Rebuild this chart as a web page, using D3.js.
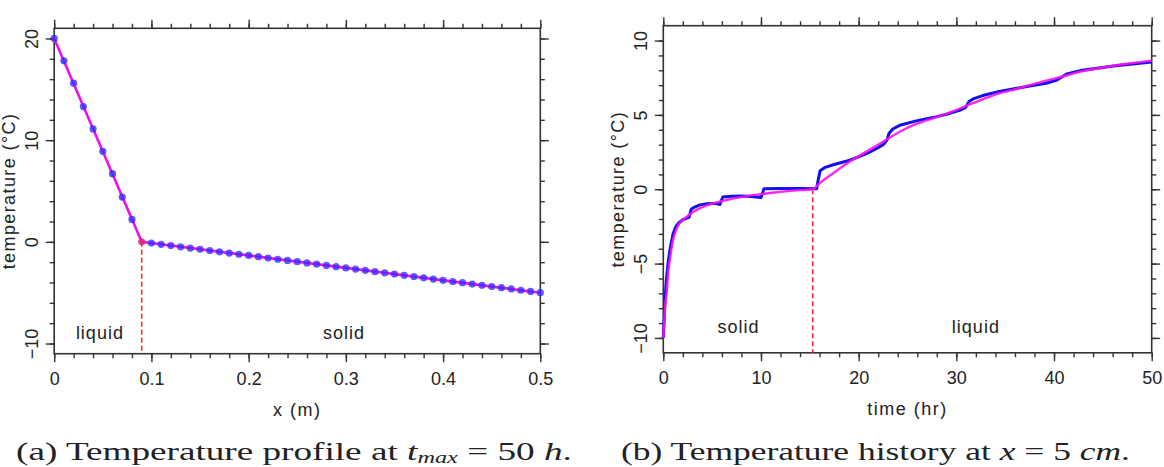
<!DOCTYPE html>
<html><head><meta charset="utf-8">
<script src="https://cdn.jsdelivr.net/npm/d3@7"></script>
<style>
body{margin:0;background:#fff;}
svg{display:block;background:#fff;}
text{font-family:"Liberation Sans",Arial,sans-serif;fill:#222;}
text.cap{font-family:"Liberation Serif","Times New Roman",serif;}
</style></head><body>
<svg id="c" width="1164" height="467"></svg>
<script>
// ---------- data: panel (a) temperature profile at t = 50 h ----------
const profileX = [0,0.01,0.02,0.03,0.04,0.05,0.06,0.07,0.08,0.09,
  0.10,0.11,0.12,0.13,0.14,0.15,0.16,0.17,0.18,0.19,0.20,0.21,0.22,0.23,0.24,0.25,0.26,0.27,0.28,0.29,
  0.30,0.31,0.32,0.33,0.34,0.35,0.36,0.37,0.38,0.39,0.40,0.41,0.42,0.43,0.44,0.45,0.46,0.47,0.48,0.49,0.50];
const profileNumT = [20,17.8,15.6,13.3,11.1,8.9,6.7,4.4,2.2,0,
  -0.12,-0.24,-0.37,-0.49,-0.61,-0.73,-0.85,-0.98,-1.10,-1.22,-1.34,-1.46,-1.59,-1.71,-1.83,-1.95,-2.07,-2.20,-2.32,-2.44,
  -2.56,-2.68,-2.80,-2.93,-3.05,-3.17,-3.29,-3.41,-3.54,-3.66,-3.78,-3.90,-4.02,-4.15,-4.27,-4.39,-4.51,-4.63,-4.76,-4.88,-5.00];
const profileExactX = [0, 0.09, 0.5];
const profileExactT = [20, 0, -5];
const profileInterfaceX = 0.09;
const profileXTicks = [0,0.1,0.2,0.3,0.4,0.5];
const profileXTickLabels = ["0","0.1","0.2","0.3","0.4","0.5"];
const profileYTicks = [-10,0,10,20];
const profileYTickLabels = ["\u221210","0","10","20"];

// ---------- data: panel (b) temperature history at x = 5 cm ----------
const historyNumTime = [0,0.15,0.3,0.5,0.7,1.0,1.3,1.6,2.0,2.5,2.65,2.85,3.2,3.75,4.5,5.3,5.8,5.95,6.1,7.0,8.0,9.0,10.0,10.15,10.3,
  12.0,14.0,15.7,15.85,16.05,16.5,17.4,19.1,20.8,22.0,22.6,22.9,23.1,23.5,24.2,25.9,27.6,29.3,30.5,30.95,31.3,31.8,
  32.7,34.4,35.8,37.5,39.2,40.3,40.8,41.3,42.7,44.4,46.1,47.8,50.0];
const historyNumT = [-10,-7.8,-6.2,-4.9,-4.0,-3.0,-2.5,-2.25,-2.05,-1.92,-1.88,-1.35,-1.2,-1.05,-0.97,-0.95,-1.02,-0.75,-0.52,-0.47,-0.45,-0.48,-0.56,-0.3,0.03,
  0.05,0.05,0.03,0.6,1.25,1.45,1.65,1.95,2.4,2.8,3.05,3.3,3.75,4.05,4.3,4.6,4.82,5.1,5.35,5.5,5.9,6.1,
  6.3,6.57,6.74,6.95,7.13,7.35,7.55,7.75,7.98,8.14,8.29,8.4,8.55];
const historyExactTime = [0,0.1,0.2,0.35,0.5,0.7,1.0,1.3,1.6,2.0,2.5,3.0,4.0,5.0,6.5,8.2,9.9,11.6,13.3,15.3,
  16.0,17.4,19.1,20.8,22.5,24.2,25.9,27.6,29.3,31.0,32.7,34.4,35.8,37.5,39.2,41.0,42.7,44.4,46.1,48.0,50.0];
const historyExactT = [-10,-8.8,-7.8,-6.9,-5.6,-4.6,-3.4,-2.75,-2.35,-2.05,-1.8,-1.55,-1.2,-0.97,-0.72,-0.5,-0.34,-0.2,-0.09,0,
  0.4,1.08,1.86,2.53,3.2,3.87,4.39,4.77,5.15,5.6,6.05,6.45,6.68,7.0,7.3,7.6,7.91,8.12,8.31,8.48,8.65];
const historyInterfaceTime = 15.3;
const historyXTicks = [0,10,20,30,40,50];
const historyXTickLabels = ["0","10","20","30","40","50"];
const historyYTicks = [-10,-5,0,5,10];
const historyYTickLabels = ["\u221210","\u22125","0","5","10"];

// ---------- drawing ----------
const svg = d3.select("#c");
const AX = "#333";

function panel(o) {
  const x = d3.scaleLinear().domain(o.xDomain).range([o.left, o.right]);
  const y = d3.scaleLinear().domain(o.yDomain).range([o.bottom, o.top]);
  const g = svg.append("g");
  const MAJ = 8.5, MIN = 4.5;
  function ax(gen, tr, vals, size, fmt) {
    const a = g.append("g").attr("transform", tr)
      .call(gen.tickValues(vals).tickSize(size).tickSizeOuter(0).tickFormat(fmt || (() => "")));
    a.select(".domain").remove();
    a.selectAll("line").attr("stroke", AX).attr("stroke-width", 1.4);
    return a;
  }
  ax(d3.axisBottom(x), `translate(0,${o.bottom})`, o.xMinor, MIN);
  ax(d3.axisTop(x), `translate(0,${o.top})`, o.xMinor, MIN);
  ax(d3.axisLeft(y), `translate(${o.left},0)`, o.yMinor, MIN);
  ax(d3.axisRight(y), `translate(${o.right},0)`, o.yMinor, MIN);
  const bx = ax(d3.axisBottom(x), `translate(0,${o.bottom})`, o.xTicks, MAJ, (d, i) => o.xLabels[i]);
  bx.selectAll("text").attr("y", 31).attr("dy", null).style("font-size", "18px").attr("fill", "#222");
  ax(d3.axisTop(x), `translate(0,${o.top})`, o.xTicks, MAJ);
  const ly = ax(d3.axisLeft(y), `translate(${o.left},0)`, o.yTicks, MAJ, (d, i) => o.yLabels[i]);
  ly.selectAll("text").attr("x", null).attr("dy", "0.36em").attr("text-anchor", "middle")
    .attr("transform", "translate(-23,0) rotate(-90)").style("font-size", "18px").attr("fill", "#222");
  ax(d3.axisRight(y), `translate(${o.right},0)`, o.yTicks, MAJ);
  g.append("rect").attr("x", o.left).attr("y", o.top).attr("width", o.right - o.left)
    .attr("height", o.bottom - o.top).attr("fill", "none").attr("stroke", AX).attr("stroke-width", 1.6);
  g.append("text").attr("x", (o.left + o.right) / 2).attr("y", o.bottom + 62).attr("text-anchor", "middle")
    .style("font-size", "18px").style("letter-spacing", "1.5px").text(o.xTitle);
  g.append("text").attr("text-anchor", "middle").attr("dy", "0.36em")
    .attr("transform", `translate(${o.left - 46},${(o.top + o.bottom) / 2}) rotate(-90)`)
    .style("font-size", "18px").style("letter-spacing", "1.4px").text("temperature (\u00B0C)");
  return {x, y, g};
}

// ----- panel (a)
const A = panel({
  left: 54.2, right: 540.3, top: 28.3, bottom: 353.7,
  xDomain: [0, 0.5], yDomain: [-11, 21],
  xTicks: profileXTicks, xLabels: profileXTickLabels, xMinor: d3.range(0, 0.5001, 0.02),
  yTicks: profileYTicks, yLabels: profileYTickLabels, yMinor: d3.range(-10, 20.001, 2),
  xTitle: "x (m)"
});
A.g.append("line").attr("x1", A.x(profileInterfaceX)).attr("x2", A.x(profileInterfaceX))
  .attr("y1", A.y(0)).attr("y2", A.y(-11)).attr("stroke", "#ff3030").attr("stroke-width", 1.6)
  .attr("stroke-dasharray", "5,3");
A.g.append("path").datum(profileExactX.map((v, i) => [v, profileExactT[i]]))
  .attr("d", d3.line().x(d => A.x(d[0])).y(d => A.y(d[1])))
  .attr("fill", "none").attr("stroke", "#ee10ee").attr("stroke-width", 2.6);
A.g.selectAll("circle.n").data(profileX.map((v, i) => [v, profileNumT[i]])).enter().append("circle")
  .attr("cx", d => A.x(d[0])).attr("cy", d => A.y(d[1])).attr("r", 3.6)
  .attr("fill", d => d[0] === profileInterfaceX ? "#e0206a" : "#3a2cff").attr("fill-opacity", 0.8);
A.g.append("text").attr("x", A.x(0.047)).attr("y", A.y(-9.6)).attr("text-anchor", "middle")
  .style("font-size", "18px").style("letter-spacing", "1px").text("liquid");
A.g.append("text").attr("x", A.x(0.298)).attr("y", A.y(-9.6)).attr("text-anchor", "middle")
  .style("font-size", "18px").style("letter-spacing", "1px").text("solid");

// ----- panel (b)
const B = panel({
  left: 663.3, right: 1151.7, top: 25.7, bottom: 352.8,
  xDomain: [0, 50], yDomain: [-11, 11],
  xTicks: historyXTicks, xLabels: historyXTickLabels, xMinor: d3.range(0, 50.001, 2),
  yTicks: historyYTicks, yLabels: historyYTickLabels, yMinor: d3.range(-10, 10.001, 1),
  xTitle: "time (hr)"
});
B.g.append("line").attr("x1", B.x(historyInterfaceTime)).attr("x2", B.x(historyInterfaceTime))
  .attr("y1", B.y(0)).attr("y2", B.y(-11)).attr("stroke", "#ff3030").attr("stroke-width", 1.6)
  .attr("stroke-dasharray", "5,3");
const lineB = d3.line().x(d => B.x(d[0])).y(d => B.y(d[1]));
B.g.append("path").datum(historyNumTime.map((v, i) => [v, historyNumT[i]]))
  .attr("d", lineB).attr("fill", "none").attr("stroke", "#1010ee").attr("stroke-width", 3)
  .attr("stroke-linejoin", "round");
B.g.append("path").datum(historyExactTime.map((v, i) => [v, historyExactT[i]]))
  .attr("d", lineB.curve(d3.curveMonotoneX)).attr("fill", "none").attr("stroke", "#ff10ee").attr("stroke-width", 2.4)
  .attr("stroke-opacity", 0.9);
B.g.append("text").attr("x", B.x(7.7)).attr("y", B.y(-9.7)).attr("text-anchor", "middle")
  .style("font-size", "18px").style("letter-spacing", "1px").text("solid");
B.g.append("text").attr("x", B.x(32.0)).attr("y", B.y(-9.7)).attr("text-anchor", "middle")
  .style("font-size", "18px").style("letter-spacing", "1px").text("liquid");

// ----- captions
function caption(x0, x1, parts) {
  const t = svg.append("text").attr("class", "cap").attr("x", 0).attr("y", 460)
    .attr("font-family", "Liberation Serif").style("font-size", "26px").attr("fill", "#111");
  parts.forEach(p => {
    const ts = t.append("tspan").text(p.s);
    if (p.i) ts.style("font-style", "italic");
    if (p.sub) ts.attr("dy", 3).style("font-size", "17px");
    if (p.up) ts.attr("dy", -3);
  });
  const w = t.node().getComputedTextLength();
  t.attr("transform", `translate(${x0},0) scale(${(x1 - x0) / w},1)`);
}
caption(16, 572, [{s: "(a) Temperature profile at "}, {s: "t", i: 1}, {s: "max", i: 1, sub: 1},
  {s: " = 50 ", up: 1}, {s: "h", i: 1}, {s: "."}]);
caption(621, 1130, [{s: "(b) Temperature history at "}, {s: "x", i: 1}, {s: " = 5 "}, {s: "cm", i: 1}, {s: "."}]);
</script>
</body></html>
